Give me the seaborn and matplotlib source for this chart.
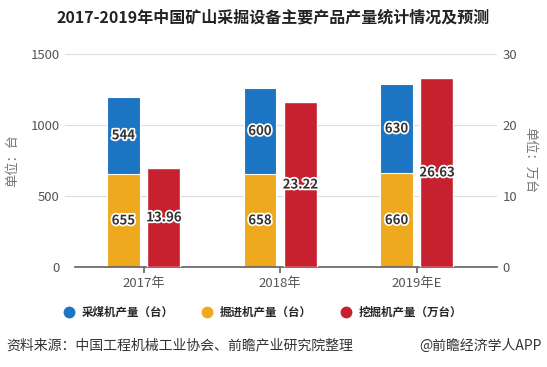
"""
    2017-2019年中国矿山采掘设备主要产品产量
"""
import pandas as pd
import matplotlib.pyplot as plt
import matplotlib.patheffects as pe
import seaborn as sns
import numpy as np

# Datos
anios = ['2017年', '2018年', '2019年E']
caimeiji = [544, 600, 630]        # 采煤机 (台)
juejinji = [655, 658, 660]        # 掘进机 (台)
wajueji = [13.96, 23.22, 26.63]   # 挖掘机 (万台)

azul = '#1b75c2'
naranja = '#efa91f'
rojo = '#c7202e'

sns.set_theme(style='white')
plt.rcParams['font.family'] = ['Noto Sans CJK SC', 'DejaVu Sans']

df = pd.DataFrame({'anio': anios, 'caimei': caimeiji, 'juejin': juejinji, 'wajue': wajueji})
df['total'] = df['caimei'] + df['juejin']
df['pos'] = np.arange(len(df))

fig = plt.figure(figsize=(5.47, 3.67), dpi=100)
ax = fig.add_axes([0.119, 0.2725, 0.79, 0.5805])
ax2 = ax.twinx()

off = 0.148
w = 0.24
sns.barplot(x=df['pos'] - off, y=df['total'], native_scale=True, width=w,
            color=azul, saturation=1, ax=ax, edgecolor='white', linewidth=0.8)
sns.barplot(x=df['pos'] - off, y=df['juejin'], native_scale=True, width=w,
            color=naranja, saturation=1, ax=ax, edgecolor='white', linewidth=0.8)
sns.barplot(x=df['pos'] + off, y=df['wajue'], native_scale=True, width=w,
            color=rojo, saturation=1, ax=ax2)

ax.set_xlim(-0.575, 2.59)
ax.set_ylim(0, 1500)
ax2.set_ylim(0, 30)
ax.set_yticks([0, 500, 1000, 1500])
ax2.set_yticks([0, 10, 20, 30])
ax.set_xticks(df['pos'])
ax.set_xticklabels(anios)
ax.set_xlabel('')
ax.set_ylabel('单位：台', color='#777777', fontsize=9.5, labelpad=8)
ax2.set_ylabel('单位：万台', color='#777777', fontsize=9.5, rotation=270, labelpad=14)
ax.grid(axis='y', color='#dddddd', linewidth=0.8)
ax.set_axisbelow(True)
for a in (ax, ax2):
    for s in a.spines.values():
        s.set_visible(False)
    a.tick_params(axis='y', length=0, labelsize=9.5, labelcolor='#555555', pad=4)
ax.spines['bottom'].set_visible(True)
ax.spines['bottom'].set_color('#666666')
ax.spines['bottom'].set_bounds(-0.5, 2.59)
ax.tick_params(axis='x', length=4, color='#666666', labelsize=9.5, labelcolor='#555555', bottom=True)

# Etiquetas de valores
efecto = [pe.withStroke(linewidth=2.5, foreground='white')]
for i, r in df.iterrows():
    ax.text(r['pos'] - off, r['juejin'] / 2, f"{r['juejin']}", ha='center', va='center',
            fontsize=9.5, fontweight='bold', color='#333333', path_effects=efecto)
    ax.text(r['pos'] - off, r['juejin'] + r['caimei'] / 2, f"{r['caimei']}", ha='center', va='center',
            fontsize=9.5, fontweight='bold', color='#333333', path_effects=efecto)
    ax2.text(r['pos'] + off, r['wajue'] / 2, f"{r['wajue']:.2f}", ha='center', va='center',
             fontsize=9.5, fontweight='bold', color='#333333', path_effects=efecto)

# Título
fig.text(0.5, 0.952, '2017-2019年中国矿山采掘设备主要产品产量统计情况及预测',
         ha='center', va='center', fontsize=11.5, fontweight='bold', color='#222222')

# Leyenda
items = [(azul, '采煤机产量（台）'), (naranja, '掘进机产量（台）'), (rojo, '挖掘机产量（万台）')]
handles = [plt.Line2D([], [], marker='o', linestyle='', markersize=7.5, color=c) for c, _ in items]
fig.legend(handles, [t for _, t in items], loc='center', bbox_to_anchor=(0.475, 0.148), ncol=3,
           frameon=False, handletextpad=0.1, columnspacing=1.9,
           prop={'size': 8.3, 'weight': 'bold'})

# Fuente
fig.text(0.012, 0.058, '资料来源：中国工程机械工业协会、前瞻产业研究院整理', ha='left', va='center',
         fontsize=10, color='#333333')
fig.text(0.99, 0.058, '@前瞻经济学人APP', ha='right', va='center', fontsize=10, color='#333333')

plt.savefig('out.png', dpi=100)
